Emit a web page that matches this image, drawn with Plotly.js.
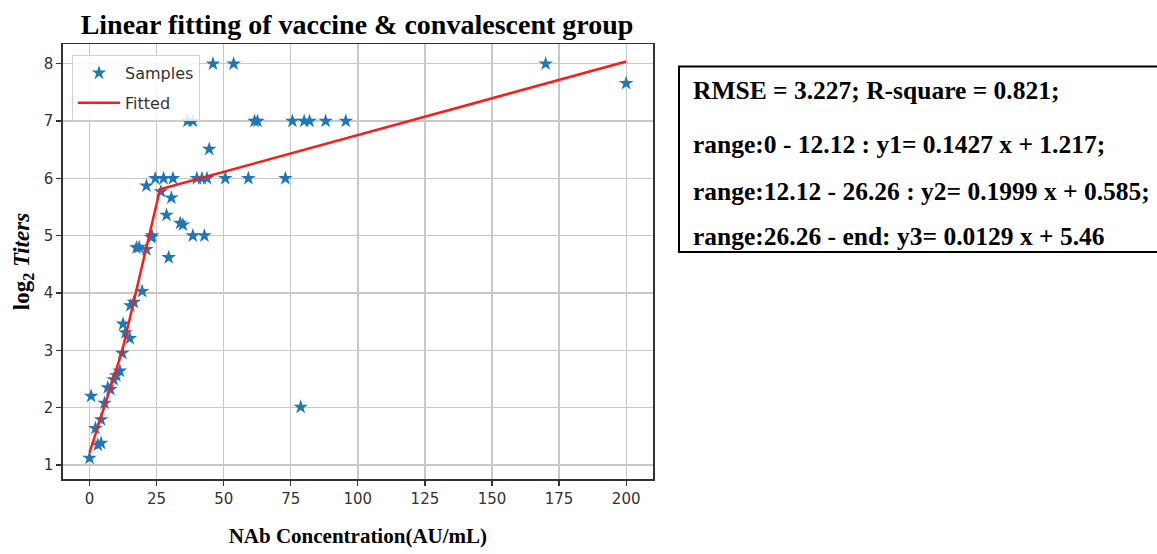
<!DOCTYPE html>
<html>
<head>
<meta charset="utf-8">
<script src="https://cdn.plot.ly/plotly-3.0.1.min.js"></script>
<style>
html,body{margin:0;padding:0;background:#fff;}
#chart{width:1157px;height:554px;}
</style>
</head>
<body>
<div id="chart"></div>
<script>
// Sample points (NAb concentration AU/mL, log2 titers)
const sampleX = [46, 53.7, 170, 200,
  36.5, 38.5, 61.5, 62.6, 75.6, 80, 82, 88, 95.5,
  44.6,
  24.5, 27.6, 31.1, 40, 41.9, 43.8, 50.6, 59.2, 73,
  21.2, 26.6, 30.5, 28.7, 33.8, 34.8,
  23.3, 23.0, 38.5, 42.8,
  17.5, 18.5, 21.2, 29.5,
  19.6, 16.5, 15.2, 12.5, 13.4, 15.0, 12.2,
  11.3, 10.0, 9.0, 6.8, 7.8, 5.6, 0.6, 4.3, 2.2, 3.1, 4.3, 0.0,
  78.7];
const sampleY = [8, 8, 8, 7.66,
  7, 7, 7, 7, 7, 7, 7, 7, 7,
  6.51,
  6, 6, 6, 6, 6, 6, 6, 6, 6,
  5.87, 5.77, 5.66, 5.36, 5.22, 5.19,
  5.0, 4.97, 5.0, 5.0,
  4.79, 4.8, 4.76, 4.62,
  4.03, 3.84, 3.78, 3.46, 3.31, 3.21, 2.95,
  2.64, 2.56, 2.49, 2.35, 2.32, 2.08, 2.2, 1.79, 1.64, 1.35, 1.38, 1.12,
  2.01];

// Piecewise linear fit
const fitX = [0, 12.12, 26.26, 200];
const fitY = [1.217, 2.98, 5.81, 8.04];

const xTicks = [0, 25, 50, 75, 100, 125, 150, 175, 200];
const yTicks = [1, 2, 3, 4, 5, 6, 7, 8];

const titleText = 'Linear fitting of vaccine &amp; convalescent group';
const xTitle = 'NAb Concentration(AU/mL)';
const yTitle = 'log<sub>2</sub> <i>Titers</i>';
const infoLines = [
  'RMSE = 3.227; R-square = 0.821;',
  'range:0 - 12.12 : y1= 0.1427 x + 1.217;',
  'range:12.12 - 26.26 : y2= 0.1999 x + 0.585;',
  'range:26.26 - end: y3= 0.0129 x + 5.46'
];

const W = 1157, H = 554;
const px = v => v / W;
const py = v => 1 - v / H;

const traces = [
  {
    x: sampleX, y: sampleY, type: 'scatter', mode: 'markers', name: 'Samples',
    legendgroup: 'a',
    marker: {symbol: 'star', size: 11, color: '#1f77b4', line: {width: 0}}
  },
  {
    x: fitX, y: fitY, type: 'scatter', mode: 'lines', name: 'Fitted',
    legendgroup: 'b',
    line: {color: '#ff1a1a', width: 2.5}
  }
];

const serif = 'Liberation Serif, Times New Roman, serif';
const sans = 'DejaVu Sans, sans-serif';

const infoY = [90.5, 144.5, 191.5, 236.5];
const annotations = infoLines.map((t, i) => ({
  xref: 'paper', yref: 'paper', x: px(691), y: py(infoY[i]),
  xanchor: 'left', yanchor: 'middle', showarrow: false,
  text: '<b>' + t + '</b>',
  font: {family: serif, size: 25.5, color: '#000'}
}));

const layout = {
  width: W, height: H,
  margin: {l: 0, r: 0, t: 0, b: 0},
  paper_bgcolor: '#fff', plot_bgcolor: '#fff',
  showlegend: true,
  title: {
    text: '<b>' + titleText + '</b>',
    x: px(357), xref: 'container', xanchor: 'center',
    y: py(24), yref: 'container', yanchor: 'middle',
    font: {family: serif, size: 28, color: '#000'}
  },
  xaxis: {
    domain: [px(62.7), px(653)],
    range: [-10, 210],
    tickvals: xTicks,
    ticks: 'outside', ticklen: 5, tickwidth: 1.2, tickcolor: '#333',
    showgrid: true, gridcolor: '#c8c8c8', gridwidth: 1.3,
    zeroline: false,
    showline: true, mirror: true, linecolor: '#333', linewidth: 1.5,
    tickfont: {family: sans, size: 15, color: '#333'},
    title: {text: '<b>' + xTitle + '</b>', standoff: 22,
      font: {family: serif, size: 21, color: '#000'}}
  },
  yaxis: {
    domain: [py(479), py(44)],
    range: [0.755, 8.345],
    tickvals: yTicks,
    ticks: 'outside', ticklen: 5, tickwidth: 1.2, tickcolor: '#333',
    showgrid: true, gridcolor: '#c8c8c8', gridwidth: 1.3,
    zeroline: false,
    showline: true, mirror: true, linecolor: '#333', linewidth: 1.5,
    tickfont: {family: sans, size: 15, color: '#333'},
    title: {text: '<b>' + yTitle + '</b>', standoff: 7,
      font: {family: serif, size: 23, color: '#000'}}
  },
  legend: {
    x: px(72), y: py(55), xanchor: 'left', yanchor: 'top',
    xref: 'paper', yref: 'paper',
    bgcolor: 'rgba(255,255,255,0.85)', bordercolor: '#d0d0d0', borderwidth: 1,
    font: {family: sans, size: 16, color: '#333'},
    tracegroupgap: 6, itemwidth: 42
  },
  shapes: [{
    type: 'rect', xref: 'paper', yref: 'paper',
    x0: px(679), x1: px(1170), y0: py(252), y1: py(66.5),
    line: {color: '#000', width: 2}, fillcolor: 'rgba(0,0,0,0)'
  }],
  annotations: annotations
};

Plotly.newPlot('chart', traces, layout, {displayModeBar: false, staticPlot: true});
</script>
</body>
</html>
